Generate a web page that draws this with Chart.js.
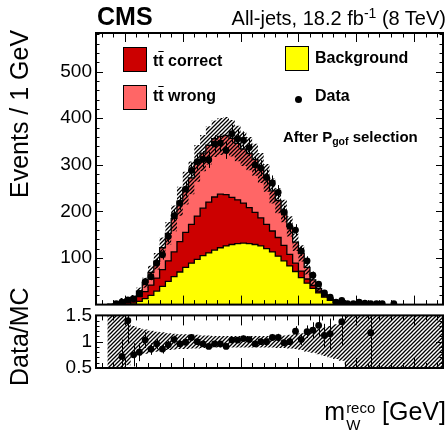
<!DOCTYPE html>
<html>
<head>
  <meta charset="utf-8">
  <title>CMS m_W reco after Pgof selection</title>
  <script src="https://cdn.jsdelivr.net/npm/chart.js@4.4.0/dist/chart.umd.min.js"></script>
  <style>
    body { margin: 0; background: #fff; }
    #wrap { position: relative; width: 447px; height: 432px; overflow: hidden;
            font-family: 'Liberation Sans', Arial, sans-serif; color: #000; }
    canvas { position: absolute; left: 0; }
    .t { position: absolute; white-space: nowrap; line-height: 1; }
    .b { font-weight: bold; }
    .box { position: absolute; border: 1px solid #000; box-sizing: border-box; }
    .rot { transform-origin: left top; transform: rotate(-90deg); }
    .ob { text-decoration: overline; }
    .up { position: relative; top: -0.5em; font-size: 0.7em; }
    .dn { position: relative; top: 0.3em; font-size: 0.7em; }
    .ss { display: inline-block; position: relative; width: 30px; height: 1em; vertical-align: top; }
    .ss span { position: absolute; left: 1px; font-size: 15px; line-height: 1; }
  </style>
</head>
<body>
<div id="wrap">
  <canvas id="main" width="447" height="320" style="top:0"></canvas>
  <canvas id="ratio" width="447" height="100" style="top:300px"></canvas>

  <div class="t b" style="left:97px;top:4px;font-size:25px">CMS</div>
  <div class="t" style="right:1px;top:8px;font-size:20px">All-jets, 18.2 fb<span class="up">-1</span> (8 TeV)</div>

  <!-- legend -->
  <div class="box" style="left:123px;top:47px;width:24px;height:25px;background:#cc0000"></div>
  <div class="t b" style="left:153px;top:53px;font-size:16px">t<span class="ob">t</span> correct</div>
  <div class="box" style="left:123px;top:85px;width:24px;height:25px;background:#ff6666"></div>
  <div class="t b" style="left:153px;top:88px;font-size:16px">t<span class="ob">t</span> wrong</div>
  <div class="box" style="left:285px;top:46px;width:24px;height:25px;background:#ffff00"></div>
  <div class="t b" style="left:315px;top:50px;font-size:16px">Background</div>
  <div style="position:absolute;left:295px;top:96px;width:7px;height:7px;border-radius:50%;background:#000"></div>
  <div class="t b" style="left:315px;top:88px;font-size:16px">Data</div>

  <div class="t b" style="left:283px;top:129px;font-size:15px">After P<span class="dn">gof</span> selection</div>

  <div class="t rot" style="left:7px;top:198px;font-size:25px">Events / 1 GeV</div>
  <div class="t rot" style="left:7px;top:386px;font-size:25px">Data/MC</div>
  <div class="t" style="right:1px;top:399px;font-size:25px">m<span class="ss"><span style="top:1px">reco</span><span style="top:18px">W</span></span> [GeV]</div>
</div>

<script>
  // bins of 1 GeV, centres
  var binCenters = [65.5, 66.5, 67.5, 68.5, 69.5, 70.5, 71.5, 72.5, 73.5, 74.5,
                    75.5, 76.5, 77.5, 78.5, 79.5, 80.5, 81.5, 82.5, 83.5, 84.5,
                    85.5, 86.5, 87.5, 88.5, 89.5, 90.5, 91.5, 92.5, 93.5, 94.5,
                    95.5, 96.5, 97.5, 98.5, 99.5, 100.5, 101.5, 102.5, 103.5, 104.5,
                    105.5, 106.5, 107.5, 108.5, 109.5, 110.5, 111.5, 112.5, 113.5, 114.5,
                    115.5, 116.5, 117.5, 118.5, 119.5, 120.5, 121.5, 122.5, 123.5, 124.5];

  // stacked MC components (events per bin)
  var background = [0, 0, 0, 0, 0, 0, 3, 7, 13, 20,
                    29, 39, 50, 60, 70, 80, 89, 97, 105, 111,
                    117, 122, 126, 129, 131, 132, 131, 129, 126, 120,
                    113, 104, 94, 83, 71, 58, 46, 35, 25, 16,
                    9, 4, 2, 1, 0, 0, 0, 0, 0, 0,
                    0, 0, 0, 0, 0, 0, 0, 0, 0, 0];
  var ttCorrect = [0, 0, 0, 1, 2, 4, 6, 10, 15, 22,
                   28, 36, 44, 53, 65, 75, 83, 93, 102, 109,
                   114, 115, 110, 101, 94, 86, 77, 69, 60, 52,
                   45, 40, 33, 25, 18, 14, 9, 6, 4, 3,
                   2, 2, 1, 0, 0, 0, 0, 0, 0, 0,
                   0, 0, 0, 0, 0, 0, 0, 0, 0, 0];
  var ttWrong = [0, 0, 1, 1, 5, 5, 7, 12, 19, 27,
                 36, 47, 59, 72, 87, 95, 100, 113, 118, 122,
                 125, 124, 127, 127, 121, 116, 116, 113, 107, 100,
                 86, 79, 74, 60, 45, 38, 25, 12, 5, 3,
                 3, 3, 3, 2, 2, 1, 1, 1, 0, 0,
                 0, 0, 0, 0, 0, 0, 0, 0, 0, 0];
  // relative MC uncertainty (hatched band)
  var mcRelUnc = [0, 0, 1, 1, 1, 0.45, 0.3, 0.26, 0.23, 0.21,
                  0.19, 0.18, 0.16, 0.15, 0.14, 0.14, 0.13, 0.13, 0.12, 0.12,
                  0.11, 0.11, 0.11, 0.11, 0.11, 0.11, 0.11, 0.11, 0.11, 0.11,
                  0.11, 0.12, 0.12, 0.13, 0.14, 0.16, 0.19, 0.21, 0.24, 0.27,
                  0.3, 0.33, 0.36, 0.5, 1, 1, 1, 1, 1, 1,
                  1, 1, 1, 1, 1, 1, 1, 1, 1, 1];

  // data
  var dataCounts = [null, null, null, 2, 5, 10, 12, 24, 49, 60,
                    89, 107, 146, 191, 218, 248, 288, 307, 312, 311,
                    345, 347, 331, 367, 356, 353, 337, 300, 293, 273,
                    261, 241, 198, 168, 160, 115, 94, 63, 44, 25,
                    16, 5, 9, 2, 2, 5, 3, 2, 2, 2,
                    null, 2, null, null, null, null, null, null, null, null];
  var dataErr = [null, null, null, 1.4, 2.2, 3.2, 3.5, 4.9, 7, 7.7,
                 9.4, 10.3, 12.1, 13.8, 14.8, 15.7, 17, 17.5, 17.7, 17.6,
                 18.6, 18.6, 18.2, 19.2, 18.9, 18.8, 18.4, 17.3, 17.1, 16.5,
                 16.2, 15.5, 14.1, 13, 12.6, 10.7, 9.7, 7.9, 6.6, 5,
                 4, 2.2, 3, 1.4, 1.4, 2.2, 1.7, 1.4, 1.4, 1.4,
                 null, 1.4, null, null, null, null, null, null, null, null];

  // data / MC
  var ratio = [null, null, null, null, 0.72, 1.40, 0.75, 0.80, 1.03, 0.86,
               0.96, 0.86, 0.94, 1.04, 0.96, 0.99, 1.08, 1.00, 0.96, 0.91,
               0.96, 0.96, 0.91, 1.03, 1.03, 1.06, 1.04, 0.96, 1.00, 1.00,
               1.08, 1.08, 0.98, 1.00, 1.20, 1.04, 1.19, 1.22, 1.31, 1.12,
               1.15, null, 1.38, null, null, null, null, 1.17, null, null,
               null, null, null, null, null, null, null, null, null, null];
  var ratioErr = [null, null, null, null, 0.32, 0.44, 0.22, 0.17, 0.15, 0.11,
                  0.1, 0.085, 0.08, 0.075, 0.065, 0.063, 0.064, 0.057, 0.055, 0.052,
                  0.054, 0.052, 0.05, 0.054, 0.055, 0.056, 0.057, 0.055, 0.058, 0.06,
                  0.067, 0.07, 0.07, 0.077, 0.095, 0.1, 0.12, 0.15, 0.2, 0.22,
                  0.29, null, 0.46, null, null, null, null, 0.83, null, null,
                  null, null, null, null, null, null, null, null, null, null];

  var mainYTicks = [100, 200, 300, 400, 500];
  var ratioYTicks = [0.5, 1, 1.5];
  var xTickLabels = [70, 80, 90, 100, 110, 120];

  var FONT = 'Liberation Sans';

  // histogram as step points (left edge of each bin + closing right edge)
  function steps(vals) {
    var pts = vals.map(function(v, i) { return {x: binCenters[i] - 0.5, y: v}; });
    pts.push({x: binCenters[vals.length - 1] + 0.5, y: vals[vals.length - 1]});
    return pts;
  }
  function points(vals) {
    var pts = [];
    vals.forEach(function(v, i) { if (v != null) pts.push({x: binCenters[i], y: v}); });
    return pts;
  }

  var sumCorrect = background.map(function(v, i) { return v + ttCorrect[i]; });
  var total = sumCorrect.map(function(v, i) { return v + ttWrong[i]; });
  var bandHi = total.map(function(v, i) { return v * (1 + mcRelUnc[i]); });
  var bandLo = total.map(function(v, i) { return v * (1 - mcRelUnc[i]); });
  var ratioHi = mcRelUnc.map(function(u) { return 1 + u; });
  var ratioLo = mcRelUnc.map(function(u) { return 1 - u; });

  // diagonal hatch like ROOT 3354
  function hatch() {
    var c = document.createElement('canvas');
    c.width = 4; c.height = 4;
    var g = c.getContext('2d');
    g.strokeStyle = '#000';
    g.lineWidth = 1.3;
    g.beginPath();
    g.moveTo(0, 4); g.lineTo(4, 0);
    g.moveTo(-1, 1); g.lineTo(1, -1);
    g.moveTo(3, 5); g.lineTo(5, 3);
    g.stroke();
    return g.createPattern(c, 'repeat');
  }
  var hatchFill = hatch();

  // error bars drawn through the chart scales
  var errorBars = {
    id: 'errorBars',
    afterDatasetsDraw: function(chart, args, opts) {
      var ctx = chart.ctx, a = chart.chartArea, x = chart.scales.x, y = chart.scales.y;
      ctx.save();
      ctx.beginPath(); ctx.rect(a.left, a.top, a.right - a.left, a.bottom - a.top); ctx.clip();
      ctx.strokeStyle = '#000';
      ctx.lineWidth = 1;
      opts.values.forEach(function(v, i) {
        if (v == null) return;
        var e = opts.errors[i];
        var px = Math.round(x.getPixelForValue(binCenters[i])) + 0.5;
        ctx.beginPath();
        ctx.moveTo(px, y.getPixelForValue(v - e));
        ctx.lineTo(px, y.getPixelForValue(v + e));
        ctx.stroke();
      });
      ctx.restore();
    }
  };

  // ROOT style frame with inward ticks on all four sides
  var frame = {
    id: 'frame',
    afterDraw: function(chart, args, o) {
      var ctx = chart.ctx, a = chart.chartArea, x = chart.scales.x, y = chart.scales.y;
      ctx.save();
      ctx.strokeStyle = '#000';
      ctx.lineWidth = 1;
      ctx.beginPath();
      for (var v = o.xFirst; v <= o.xLast + 1e-9; v += o.xMinor) {
        var major = Math.abs(v / o.xMajor - Math.round(v / o.xMajor)) < 1e-6;
        var len = major ? o.xLen : o.xLen / 2;
        var px = Math.round(x.getPixelForValue(v)) + 0.5;
        ctx.moveTo(px, a.bottom); ctx.lineTo(px, a.bottom - len);
        ctx.moveTo(px, a.top); ctx.lineTo(px, a.top + len);
      }
      for (var w = o.yFirst; w <= o.yLast + 1e-9; w += o.yMinor) {
        var majorY = Math.abs(w / o.yMajor - Math.round(w / o.yMajor)) < 1e-6;
        var lenY = majorY ? o.yLen : o.yLen / 2;
        var py = Math.round(y.getPixelForValue(w)) + 0.5;
        ctx.moveTo(a.left, py); ctx.lineTo(a.left + lenY, py);
        ctx.moveTo(a.right, py); ctx.lineTo(a.right - lenY, py);
      }
      ctx.stroke();
      ctx.lineWidth = 2;
      ctx.strokeRect(a.left, a.top, a.right - a.left, a.bottom - a.top);
      ctx.restore();
    }
  };

  function histSet(label, vals, color, order) {
    return {label: label, data: steps(vals), stepped: true, borderColor: '#000', borderWidth: 1.3,
            pointRadius: 0, fill: 'origin', backgroundColor: color, order: order};
  }
  function bandSets(hi, lo) {
    return [
      {label: 'unc', data: steps(hi), stepped: true, borderWidth: 0, borderColor: 'transparent',
       pointRadius: 0, fill: '+1', backgroundColor: hatchFill, order: 1},
      {label: 'unc lo', data: steps(lo), stepped: true, borderWidth: 0, borderColor: 'transparent',
       pointRadius: 0, fill: false, order: 1}
    ];
  }
  function dataSet(vals) {
    return {label: 'Data', data: points(vals), showLine: false, pointRadius: 3.4,
            pointBackgroundColor: '#000', pointBorderWidth: 0, order: 0};
  }

  var common = {
    animation: false,
    responsive: false,
    devicePixelRatio: 1,
    events: []
  };

  new Chart(document.getElementById('main'), {
    type: 'line',
    data: {
      datasets: [dataSet(dataCounts)].concat(bandSets(bandHi, bandLo), [
        histSet('Background', background, '#ffff00', 2),
        histSet('tt correct', sumCorrect, '#cc0000', 3),
        histSet('tt wrong', total, '#ff6666', 4)
      ])
    },
    options: Object.assign({}, common, {
      layout: {padding: {top: 33, right: 1, bottom: 12.5, left: 0}},
      plugins: {
        legend: {display: false}, tooltip: {enabled: false},
        errorBars: {values: dataCounts, errors: dataErr},
        frame: {xFirst: 66, xLast: 124, xMinor: 2, xMajor: 10, xLen: 9,
                yFirst: 20, yLast: 580, yMinor: 20, yMajor: 100, yLen: 7}
      },
      scales: {
        x: {type: 'linear', min: 65, max: 125, display: false},
        y: {min: 0, max: 583,
            afterFit: function(s) { s.width = 96; },
            grid: {display: false, drawTicks: false}, border: {display: false},
            ticks: {stepSize: 100, padding: 4, color: '#000', font: {family: FONT, size: 19},
                    callback: function(v) { return mainYTicks.indexOf(v) >= 0 ? v : ''; }}}
      }
    }),
    plugins: [errorBars, frame]
  });

  new Chart(document.getElementById('ratio'), {
    type: 'line',
    data: {
      datasets: [dataSet(ratio)].concat(bandSets(ratioHi, ratioLo))
    },
    options: Object.assign({}, common, {
      layout: {padding: {top: 12.5, right: 1, bottom: 0, left: 0}},
      plugins: {
        legend: {display: false}, tooltip: {enabled: false},
        errorBars: {values: ratio, errors: ratioErr},
        frame: {xFirst: 66, xLast: 124, xMinor: 2, xMajor: 10, xLen: 10,
                yFirst: 0.6, yLast: 1.4, yMinor: 0.1, yMajor: 0.5, yLen: 7}
      },
      scales: {
        x: {type: 'linear', min: 65, max: 125,
            afterFit: function(s) { s.height = 32; },
            grid: {display: false, drawTicks: false}, border: {display: false},
            ticks: {stepSize: 10, padding: 4, autoSkip: false, maxRotation: 0, color: '#000',
                    font: {family: FONT, size: 19},
                    callback: function(v) { return xTickLabels.indexOf(v) >= 0 ? v : ''; }}},
        y: {min: 0.5, max: 1.5,
            afterFit: function(s) { s.width = 96; },
            grid: {display: false, drawTicks: false}, border: {display: false},
            ticks: {stepSize: 0.5, padding: 4, color: '#000', font: {family: FONT, size: 19},
                    callback: function(v) { return ratioYTicks.indexOf(v) >= 0 ? v : ''; }}}
      }
    }),
    plugins: [errorBars, frame]
  });
</script>
</body>
</html>
